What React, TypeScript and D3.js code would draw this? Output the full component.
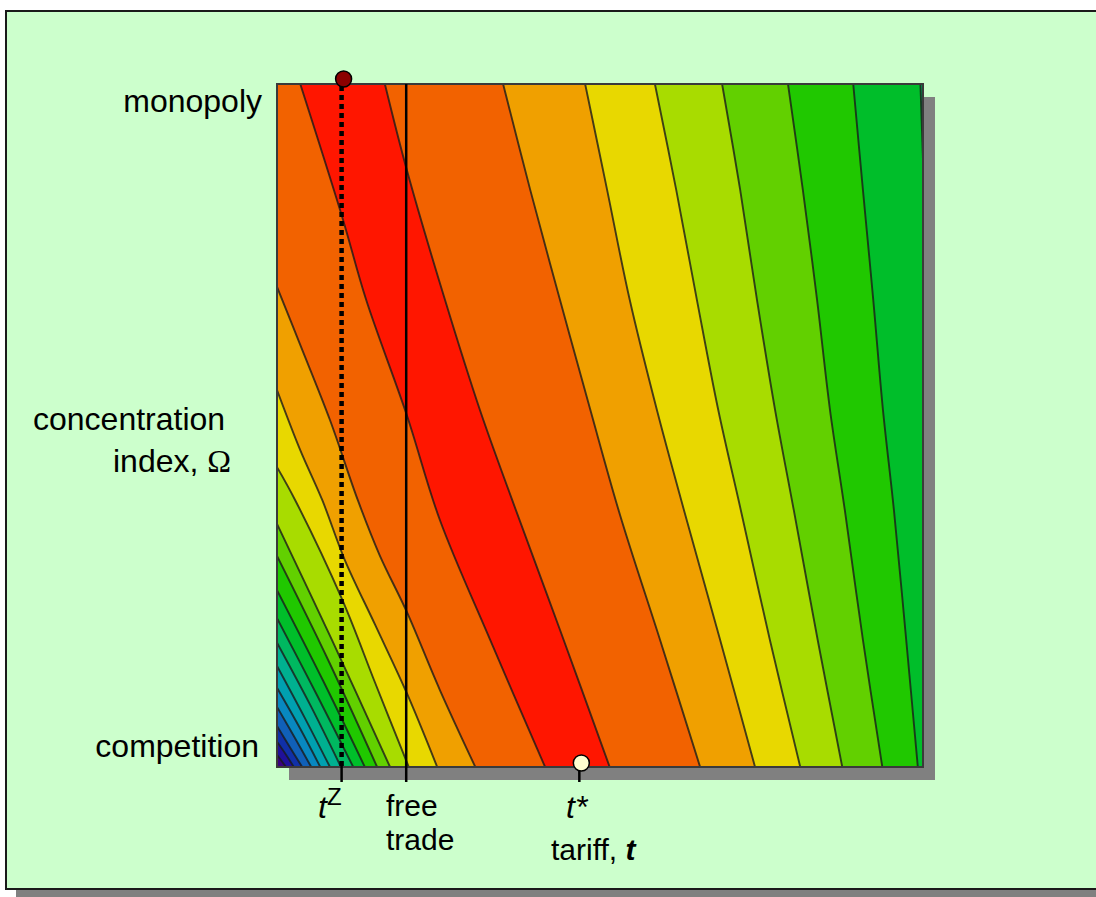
import { useEffect, useRef } from "react";
import * as d3 from "d3";

type Pt = [number, number]; // [tariff t, concentration omega], both on a 0..100 scale

// fill colours by contour level, 0 = bottom-left corner, 15 = the red ridge
const bandColors = [
  "#3a0080", "#20109a", "#1030a8", "#1060b8", "#0888c0", "#00a0b0", "#00b090", "#00b860",
  "#00be2a", "#20c800", "#62d000", "#a8dc00", "#e8d800", "#f0a000", "#f26200", "#ff1600",
];

// the two edges of the red ridge (top edge -> bottom edge)
const ridgeWest: Pt[] = [[3.6, 100], [10.1, 80.5], [13.8, 68.4], [20.1, 51.5], [25.2, 36.2], [33.0, 18.6], [41.5, 0]];
const ridgeEast: Pt[] = [[16.7, 100], [20.1, 87.4], [26.0, 68.4], [31.4, 52.3], [36.4, 39.1], [43.8, 20.1], [51.5, 0]];

// contours east of the ridge, top edge -> bottom edge
const eastContours: Pt[][] = [
  [[35.0, 100], [39.2, 84.5], [43.8, 68.4], [48.5, 52.3], [53.1, 36.9], [59.3, 18.6], [65.5, 0]],
  [[47.7, 100], [51.1, 84.5], [54.6, 68.4], [58.8, 52.3], [63.0, 37.6], [68.6, 18.6], [74.0, 0]],
  [[58.5, 100], [61.8, 84.5], [65.0, 68.4], [68.3, 52.3], [71.8, 37.6], [76.3, 18.6], [81.0, 0]],
  [[68.9, 100], [71.7, 84.5], [74.3, 68.4], [77.1, 52.3], [80.0, 37.6], [83.7, 18.6], [87.5, 0]],
  [[79.1, 100], [81.4, 84.5], [83.6, 68.4], [85.6, 52.3], [87.9, 37.6], [90.7, 18.6], [93.7, 0]],
  [[89.2, 100], [90.7, 84.5], [92.3, 68.4], [93.8, 52.3], [95.5, 37.6], [97.4, 18.6], [99.2, 0]],
  [[99.6, 100], [100, 88.9]],
];
const eastLevels = [13, 12, 11, 10, 9, 8, 7];

// contours west of the ridge, left edge -> bottom edge
const westContours: Pt[][] = [
  [[0, 70.3], [3.6, 61.8], [8.2, 50.8], [12.5, 39.1], [15.9, 31.0], [20.1, 22.7], [25.2, 11.3], [30.7, 0]],
  [[0, 55.2], [3.6, 46.4], [7.0, 39.1], [10.5, 30.3], [15.2, 20.8], [20.1, 10.8], [24.8, 0]],
  [[0, 43.9], [2.8, 39.1], [10.1, 24.5], [15.2, 12.3], [20.4, 0]],
  [[0, 35.6], [8.5, 18.6], [17.5, 0]],
  [[0, 30.9], [7.9, 15.7], [15.5, 0]],
  [[0, 25.9], [7.1, 12.7], [13.6, 0]],
  [[0, 21.8], [6.2, 10.5], [11.8, 0]],
  [[0, 18.2], [5.3, 8.8], [9.9, 0]],
  [[0, 14.8], [4.3, 7.2], [8.2, 0]],
  [[0, 11.6], [3.6, 5.6], [6.7, 0]],
  [[0, 8.8], [2.8, 4.2], [5.3, 0]],
  [[0, 6.0], [2.0, 2.9], [3.9, 0]],
  [[0, 3.7], [1.4, 1.8], [2.6, 0]],
  [[0, 1.8], [1.4, 0]],
];
const westLevels = [13, 12, 11, 10, 9, 8, 7, 6, 5, 4, 3, 2, 1, 0];

// marked tariffs
const tZ = 10;
const tFree = 20;
const tStar = 46.8;

const W = 1096;
const H = 897;
const font = "'Liberation Sans', Arial, sans-serif";

export default function App() {
  const svgRef = useRef<SVGSVGElement | null>(null);

  useEffect(() => {
    if (!svgRef.current) return;
    const svg = d3.select(svgRef.current);
    svg.selectAll("*").remove();

    const x = d3.scaleLinear().domain([0, 100]).range([277, 923]);
    const y = d3.scaleLinear().domain([0, 100]).range([767, 84]);
    const line = d3
      .line<Pt>()
      .x((d) => x(d[0]))
      .y((d) => y(d[1]))
      .curve(d3.curveCatmullRom.alpha(0.5));

    // slide frame
    svg.append("rect").attr("width", W).attr("height", H).attr("fill", "#ffffff");
    svg.append("rect").attr("x", 16).attr("y", 19).attr("width", W + 20).attr("height", 878).attr("fill", "#808080");
    svg
      .append("rect")
      .attr("x", 6)
      .attr("y", 11)
      .attr("width", W + 20)
      .attr("height", 878)
      .attr("fill", "#ccffcc")
      .attr("stroke", "#1a1a1a")
      .attr("stroke-width", 2);

    const px0 = x(0);
    const px1 = x(100);
    const py0 = y(0);
    const py1 = y(100);

    // plot shadow
    svg
      .append("rect")
      .attr("x", px0 + 12)
      .attr("y", py1 + 13)
      .attr("width", px1 - px0)
      .attr("height", py0 - py1)
      .attr("fill", "#808080");

    svg
      .append("defs")
      .append("clipPath")
      .attr("id", "plotClip")
      .append("rect")
      .attr("x", px0)
      .attr("y", py1)
      .attr("width", px1 - px0)
      .attr("height", py0 - py1);

    const g = svg.append("g").attr("clip-path", "url(#plotClip)");

    g.append("rect")
      .attr("x", px0)
      .attr("y", py1)
      .attr("width", px1 - px0)
      .attr("height", py0 - py1)
      .attr("fill", bandColors[14]);

    // red ridge
    const back = line([...ridgeEast].reverse()) as string;
    g.append("path")
      .attr("d", (line(ridgeWest) as string) + back.replace(/^M/, "L") + "Z")
      .attr("fill", bandColors[15]);

    eastContours.forEach((c, i) => {
      g.append("path")
        .attr("d", (line(c) as string) + `L${px1 + 5},${py0 + 5}L${px1 + 5},${py1 - 5}Z`)
        .attr("fill", bandColors[eastLevels[i]]);
    });

    westContours.forEach((c, i) => {
      g.append("path")
        .attr("d", (line(c) as string) + `L${px0 - 5},${py0 + 5}Z`)
        .attr("fill", bandColors[westLevels[i]]);
    });

    [ridgeWest, ridgeEast, ...eastContours, ...westContours].forEach((c) => {
      g.append("path")
        .attr("d", line(c) as string)
        .attr("fill", "none")
        .attr("stroke", "#1a1a1a")
        .attr("stroke-width", 1.9)
        .attr("stroke-opacity", 0.8);
    });

    // plot border
    svg
      .append("rect")
      .attr("x", px0)
      .attr("y", py1)
      .attr("width", px1 - px0)
      .attr("height", py0 - py1)
      .attr("fill", "none")
      .attr("stroke", "#3a3a3a")
      .attr("stroke-width", 2);

    // free trade line
    svg
      .append("line")
      .attr("x1", x(tFree))
      .attr("x2", x(tFree))
      .attr("y1", py1)
      .attr("y2", py0 + 15)
      .attr("stroke", "#000")
      .attr("stroke-width", 2.5);

    // t^Z dotted line + tick
    svg
      .append("line")
      .attr("x1", x(tZ))
      .attr("x2", x(tZ))
      .attr("y1", py1 + 2)
      .attr("y2", py0)
      .attr("stroke", "#000")
      .attr("stroke-width", 4.5)
      .attr("stroke-dasharray", "5 4");
    svg
      .append("line")
      .attr("x1", x(tZ))
      .attr("x2", x(tZ))
      .attr("y1", py0 - 2)
      .attr("y2", py0 + 15)
      .attr("stroke", "#000")
      .attr("stroke-width", 2.5);

    // t* tick
    svg
      .append("line")
      .attr("x1", x(tStar))
      .attr("x2", x(tStar))
      .attr("y1", py0)
      .attr("y2", py0 + 15)
      .attr("stroke", "#000")
      .attr("stroke-width", 2.5);

    svg
      .append("circle")
      .attr("cx", x(tZ) + 2)
      .attr("cy", py1 - 5)
      .attr("r", 8)
      .attr("fill", "#8b0000")
      .attr("stroke", "#000")
      .attr("stroke-width", 1.5);
    svg
      .append("circle")
      .attr("cx", x(tStar) + 2)
      .attr("cy", py0 - 4)
      .attr("r", 8)
      .attr("fill", "#ffffd0")
      .attr("stroke", "#000")
      .attr("stroke-width", 1.5);

    // labels
    const txt = (tx: number, ty: number, s: string, anchor = "start", size = 32) =>
      svg
        .append("text")
        .attr("x", tx)
        .attr("y", ty)
        .attr("text-anchor", anchor)
        .attr("font-family", font)
        .attr("font-size", size)
        .attr("fill", "#000")
        .text(s);

    txt(262, 112, "monopoly", "end");
    txt(259, 757, "competition", "end");
    txt(33, 430, "concentration");
    const idx = txt(113, 472, "index, ");
    idx.append("tspan").attr("font-family", "'Liberation Serif', 'Times New Roman', serif").text("Ω");

    const tz = txt(318, 818, "t").attr("font-style", "italic");
    tz.append("tspan").attr("font-style", "normal").attr("font-size", 24).attr("dy", -13).text("Z");

    txt(386, 816, "free", "start", 30);
    txt(386, 850, "trade", "start", 30);
    txt(566, 818, "t*").attr("font-style", "italic");
    const tar = txt(551, 860, "tariff, ", "start", 30);
    tar.append("tspan").attr("font-style", "italic").attr("font-weight", "bold").text("t");
  }, []);

  return (
    <svg
      ref={svgRef}
      width={W}
      height={H}
      style={{ position: "absolute", left: 0, top: 0 }}
    />
  );
}
